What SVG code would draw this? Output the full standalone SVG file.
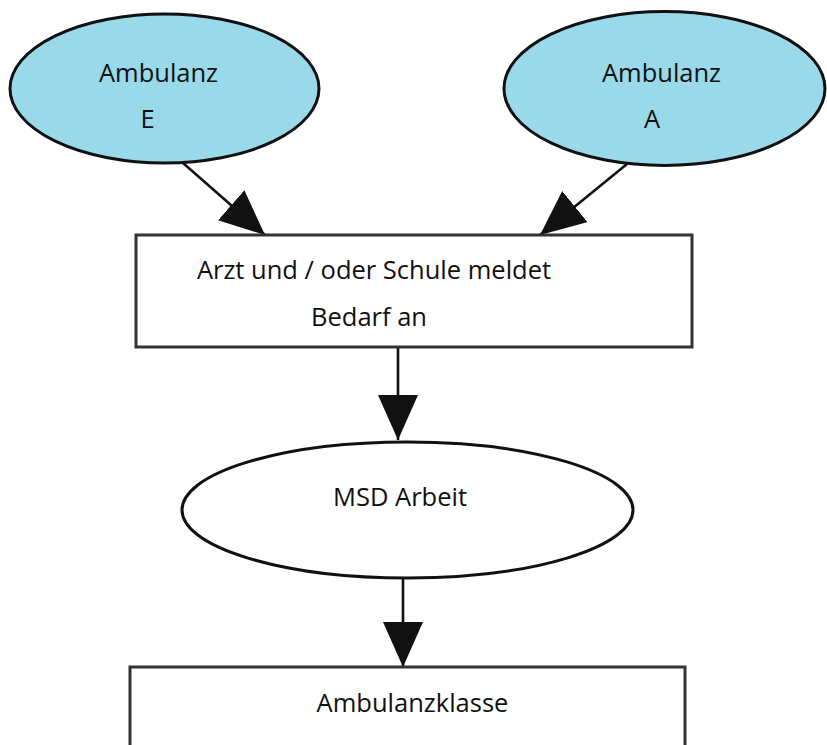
<svg xmlns="http://www.w3.org/2000/svg" width="827" height="745" viewBox="0 0 827 745">
<style>
.lbl{font-family:"Open Sans","Noto Sans","Liberation Sans",sans-serif;font-size:25.5px;fill:#111;text-anchor:middle}
.blue{fill:#99d9ea;stroke:#111;stroke-width:3}
.plain{fill:#fff;stroke:#111;stroke-width:3}
.box{fill:#fff;stroke:#333;stroke-width:3}
.edge{stroke:#111;stroke-width:2.6;fill:none;marker-end:url(#ah)}
</style>
<defs>
<marker id="ah" viewBox="0 0 45 40" refX="45" refY="20" markerWidth="45" markerHeight="40" markerUnits="userSpaceOnUse" orient="auto">
<path d="M0,0 L45,20 L0,40 z" fill="#111"/>
</marker>
</defs>
<rect width="827" height="745" fill="#fff"/>
<g id="connectors">
<line class="edge" x1="183" y1="163" x2="265" y2="235"/>
<line class="edge" x1="627" y1="164" x2="540" y2="235"/>
<line class="edge" x1="398" y1="347" x2="398" y2="440"/>
<line class="edge" x1="403" y1="578" x2="403" y2="667"/>
</g>
<g id="node-ambulanz-e">
<ellipse class="blue" cx="164.5" cy="88.5" rx="154.5" ry="74.5"/>
<text class="lbl" x="158.5" y="82">Ambulanz</text>
<text class="lbl" x="147.5" y="128">E</text>
</g>
<g id="node-ambulanz-a">
<ellipse class="blue" cx="664.5" cy="88.5" rx="160.5" ry="77"/>
<text class="lbl" x="661.5" y="82">Ambulanz</text>
<text class="lbl" x="652" y="128">A</text>
</g>
<g id="node-arzt">
<rect class="box" x="136" y="235" width="556" height="112"/>
<text class="lbl" x="374" y="279">Arzt und / oder Schule meldet</text>
<text class="lbl" x="369" y="326">Bedarf an</text>
</g>
<g id="node-msd">
<ellipse class="plain" cx="407.5" cy="510" rx="225.5" ry="68"/>
<text class="lbl" x="400" y="506">MSD Arbeit</text>
</g>
<g id="node-klasse">
<rect class="box" x="130" y="667" width="555" height="100"/>
<text class="lbl" x="412.5" y="712">Ambulanzklasse</text>
</g>
</svg>
